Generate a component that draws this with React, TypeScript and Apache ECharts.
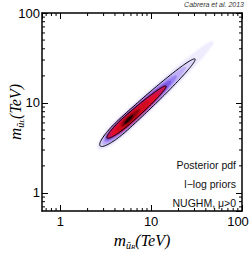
import React, { useEffect, useRef } from 'react';
import * as echarts from 'echarts';

// axis extent and ticks (TeV)
const axisMin = 0.63;
const axisMax = 100;
const majorTickValues = [1, 10, 100];
const minorTickValues = [0.7, 0.8, 0.9, 2, 3, 4, 5, 6, 7, 8, 9, 20, 30, 40, 50, 60, 70, 80, 90];

// iso-density regions of the posterior, outermost first (tips in TeV, half-width in decades)
const levelLowX = [2.6, 2.75, 2.95, 3.1, 3.2, 3.28, 3.7, 4.2, 4.7, 5.1];
const levelLowY = [3.1, 3.33, 3.5, 3.75, 3.95, 4.08, 4.4, 4.9, 5.5, 5.9];
const levelHighX = [48, 30.4, 24, 19, 16.5, 14.6, 12, 9.5, 7.5, 6.3];
const levelHighY = [48, 30.8, 25, 20, 17.5, 15.4, 12.5, 10.5, 8.5, 7.3];
const levelHalfWidth = [0.09, 0.075, 0.066, 0.058, 0.054, 0.05, 0.042, 0.032, 0.022, 0.013];
const levelBulge = [0.22, 0.25, 0.27, 0.3, 0.32, 0.35, 0.35, 0.33, 0.4, 0.45];
const contourLevels = [1, 5]; // 95% and 68% credible contours

const levelColors = ['#efecfd', '#dcd4fa', '#bfb0f6', '#9a84f1', '#7a5ce8', '#c8185a', '#e2102a', '#d00a1c', '#8a0010', '#1a0000'];

const annotations = ['Posterior pdf', 'l\u2212log priors', 'NUGHM, \u03bc>0'];

function eggPoints(api: any, i: number) {
  const ax = Math.log10(levelLowX[i]);
  const ay = Math.log10(levelLowY[i]);
  const bx = Math.log10(levelHighX[i]);
  const by = Math.log10(levelHighY[i]);
  const dx = bx - ax;
  const dy = by - ay;
  const len = Math.hypot(dx, dy);
  const nx = -dy / len;
  const ny = dx / len;
  const W = levelHalfWidth[i];
  const p = levelBulge[i];
  const N = 80;
  const upper: number[][] = [];
  const lower: number[][] = [];
  for (let k = 0; k <= N; k++) {
    const s = (1 - Math.cos((Math.PI * k) / N)) / 2;
    const t = s < p ? (s - p) / p : (s - p) / (1 - p);
    const w = W * Math.sqrt(Math.max(0, 1 - t * t));
    const cx = ax + s * dx;
    const cy = ay + s * dy;
    upper.push(api.coord([Math.pow(10, cx + nx * w), Math.pow(10, cy + ny * w)]));
    lower.push(api.coord([Math.pow(10, cx - nx * w), Math.pow(10, cy - ny * w)]));
  }
  return upper.concat(lower.reverse());
}

const labelFmt = (v: number) => {
  const l = Math.log10(v);
  if (Math.abs(l - Math.round(l)) > 1e-6 || !majorTickValues.includes(Math.round(v))) return '';
  const r = Math.round(v);
  return r === axisMax ? '{edge|' + r + '}' : String(r);
};

const serif = 'Liberation Serif';
const sans = 'Liberation Sans';

function titleRich() {
  return {
    m: { fontFamily: serif, fontStyle: 'italic', fontSize: 17, lineHeight: 20, color: '#000' },
    s: { fontFamily: serif, fontStyle: 'italic', fontSize: 10, lineHeight: 10, verticalAlign: 'bottom', color: '#000' },
    r: { fontFamily: serif, fontStyle: 'italic', fontSize: 7, lineHeight: 7, verticalAlign: 'bottom', color: '#000' },
    t: { fontFamily: serif, fontStyle: 'italic', fontSize: 16, lineHeight: 20, color: '#000' },
  };
}

export default function App() {
  const ref = useRef<HTMLDivElement>(null);
  useEffect(() => {
    if (!ref.current) return;
    const chart = echarts.init(ref.current, null, { renderer: 'svg' });
    const baseAxis = {
      type: 'log',
      logBase: 10,
      min: axisMin,
      max: axisMax,
      splitLine: { show: false },
      nameMoveOverlap: false,
      axisLine: { show: true, lineStyle: { color: '#000', width: 1.5 } },
      axisTick: { show: true, inside: true, length: 6, lineStyle: { color: '#000', width: 1 } },
    };
    const labelBase = { formatter: labelFmt, fontFamily: sans, fontSize: 13, color: '#000', showMinLabel: false, showMaxLabel: true, hideOverlap: false };
    chart.setOption({
      animation: false,
      grid: { left: 42, right: 7, top: 13, bottom: 47, outerBoundsMode: 'none' },
      xAxis: [
        {
          ...baseAxis,
          position: 'bottom',
          axisLabel: { ...labelBase, margin: 4, rich: { edge: { fontFamily: sans, fontSize: 13, color: '#000', padding: [0, 8, 0, 0] } } },
          name: '{m|m}{s|\u0169}{r|R}{t|(TeV)}',
          nameLocation: 'middle',
          nameGap: 19,
          nameTextStyle: { rich: titleRich() },
        },
        { ...baseAxis, position: 'top', axisLabel: { show: false } },
      ],
      yAxis: [
        {
          ...baseAxis,
          position: 'left',
          axisLabel: { ...labelBase, margin: 2, rich: { edge: { fontFamily: sans, fontSize: 13, color: '#000' } } },
          name: '{m|m}{s|\u0169}{r|L}{t|(TeV)}',
          nameLocation: 'middle',
          nameRotate: 90,
          nameGap: 17,
          nameTextStyle: { rich: titleRich() },
        },
        { ...baseAxis, position: 'right', axisLabel: { show: false } },
      ],
      graphic: [
        {
          type: 'text',
          right: 5,
          top: 1,
          style: { text: 'Cabrera et al. 2013', fontFamily: sans, fontStyle: 'italic', fontSize: 7, fill: '#333' },
        },
        ...annotations.map((t, i) => ({
          type: 'text',
          right: 13,
          top: 159 + i * 19,
          style: { text: t, fontFamily: sans, fontSize: 10.5, fill: '#111' },
        })),
      ],
      series: [
        {
          type: 'custom',
          silent: true,
          coordinateSystem: 'cartesian2d',
          data: [[1, 1]],
          renderItem: (params: any, api: any) => {
            const children: any[] = [];
            levelColors.forEach((c, i) => {
              children.push({
                type: 'polygon',
                shape: { points: eggPoints(api, i) },
                style: { fill: c, stroke: null, shadowBlur: 3, shadowColor: c },
              });
            });
            contourLevels.forEach((i) => {
              children.push({ type: 'polygon', shape: { points: eggPoints(api, i) }, style: { fill: null, stroke: '#000', lineWidth: 1 } });
            });
            return { type: 'group', children };
          },
        },
        {
          type: 'custom',
          silent: true,
          coordinateSystem: 'cartesian2d',
          data: minorTickValues.map((v) => [v, v]),
          renderItem: (params: any, api: any) => {
            const v = api.value(0);
            const cs = params.coordSys;
            const x = api.coord([v, 1])[0];
            const y = api.coord([1, v])[1];
            const L = 3;
            const st = { stroke: '#000', lineWidth: 1 };
            return {
              type: 'group',
              children: [
                { type: 'line', shape: { x1: x, y1: cs.y + cs.height, x2: x, y2: cs.y + cs.height - L }, style: st },
                { type: 'line', shape: { x1: x, y1: cs.y, x2: x, y2: cs.y + L }, style: st },
                { type: 'line', shape: { x1: cs.x, y1: y, x2: cs.x + L, y2: y }, style: st },
                { type: 'line', shape: { x1: cs.x + cs.width, y1: y, x2: cs.x + cs.width - L, y2: y }, style: st },
              ],
            };
          },
        },
      ],
    });
    return () => chart.dispose();
  }, []);
  return <div ref={ref} style={{ width: 249, height: 258, position: 'absolute', left: 0, top: 0 }} />;
}
